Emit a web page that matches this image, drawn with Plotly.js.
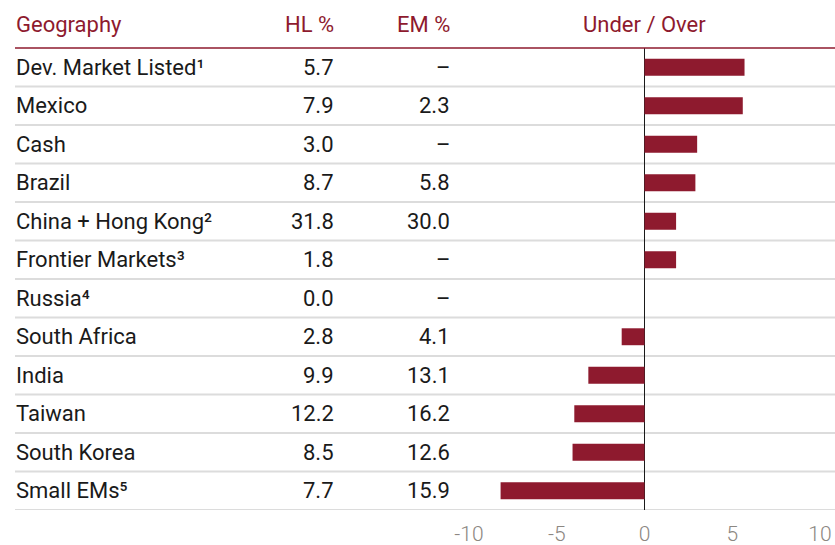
<!DOCTYPE html>
<html>
<head>
<meta charset="utf-8">
<script src="https://cdn.plot.ly/plotly-3.0.1.min.js"></script>
<style>
html,body{margin:0;padding:0;background:#fff;}
#chart{width:835px;height:545px;}
</style>
</head>
<body>
<div id="chart"></div>
<script>
const geographies = ["Dev. Market Listed¹", "Mexico", "Cash", "Brazil", "China + Hong Kong²", "Frontier Markets³", "Russia⁴", "South Africa", "India", "Taiwan", "South Korea", "Small EMs⁵"];
const hlPct = ["5.7", "7.9", "3.0", "8.7", "31.8", "1.8", "0.0", "2.8", "9.9", "12.2", "8.5", "7.7"];
const emPct = ["–", "2.3", "–", "5.8", "30.0", "–", "–", "4.1", "13.1", "16.2", "12.6", "15.9"];
const underOver = [5.7, 5.6, 3.0, 2.9, 1.8, 1.8, 0.0, -1.3, -3.2, -4.0, -4.1, -8.2];
const headers = ["Geography", "HL %", "EM %", "Under / Over"];
const xTicks = [-10, -5, 0, 5, 10];

const RED = "#8e1a2e";
const TEXT = "#1a1a1a";
const FONT = "Roboto, 'DejaVu Sans', sans-serif";
const FS = 22;

const yIdx = geographies.map((_, i) => i);

const trace = {
  type: "bar",
  orientation: "h",
  y: yIdx,
  x: underOver,
  width: 0.44,
  marker: { color: RED },
  hoverinfo: "skip"
};

const annotations = [];
function px(x) { return (x - 15) / 820; }
annotations.push({ xref: "paper", yref: "paper", x: 0, xshift: -1, y: 1.05, xanchor: "left", yanchor: "middle", text: headers[0], showarrow: false, font: { family: FONT, size: FS, color: RED } });
annotations.push({ xref: "paper", yref: "paper", x: px(336), y: 1.05, xanchor: "right", yanchor: "middle", text: headers[1], showarrow: false, font: { family: FONT, size: FS, color: RED } });
annotations.push({ xref: "paper", yref: "paper", x: px(452), y: 1.05, xanchor: "right", yanchor: "middle", text: headers[2], showarrow: false, font: { family: FONT, size: FS, color: RED } });
annotations.push({ xref: "x", yref: "paper", x: 0, y: 1.05, xanchor: "center", yanchor: "middle", text: headers[3], showarrow: false, font: { family: FONT, size: FS, color: RED } });

geographies.forEach((g, i) => {
  annotations.push({ xref: "paper", yref: "y", x: 0, xshift: -1, y: i, xanchor: "left", yanchor: "middle", text: g, showarrow: false, font: { family: FONT, size: FS, color: TEXT } });
  annotations.push({ xref: "paper", yref: "y", x: px(336), y: i, xanchor: "right", yanchor: "middle", text: hlPct[i], showarrow: false, font: { family: FONT, size: FS, color: TEXT } });
  annotations.push({ xref: "paper", yref: "y", x: px(452), y: i, xanchor: "right", yanchor: "middle", text: emPct[i], showarrow: false, font: { family: FONT, size: FS, color: TEXT } });
});

const shapes = [];
geographies.forEach((_, i) => {
  shapes.push({ type: "line", xref: "paper", yref: "y", x0: 0, x1: 1, y0: i + 0.5, y1: i + 0.5, line: { color: "#dcdcdc", width: 2 }, layer: "below" });
});
shapes.push({ type: "line", xref: "paper", yref: "paper", x0: 0, x1: 1, y0: 1, y1: 1, line: { color: RED, width: 1.5 } });

const layout = {
  width: 835,
  height: 545,
  margin: { l: 15, r: 0, t: 48, b: 35 },
  paper_bgcolor: "#fff",
  plot_bgcolor: "rgba(0,0,0,0)",
  showlegend: false,
  xaxis: {
    domain: [px(469), px(820)],
    range: [-10, 10],
    tickvals: xTicks,
    ticktext: xTicks.map(v => v < 0 ? "-" + Math.abs(v) : String(v)),
    showgrid: false,
    zeroline: true,
    zerolinecolor: "#1a1a1a",
    zerolinewidth: 1.5,
    tickfont: { family: FONT, size: 21, color: "#8c8782", weight: 300 },
    ticks: "",
    ticklabelstandoff: 9,
    fixedrange: true
  },
  yaxis: {
    range: [11.5, -0.5],
    showticklabels: false,
    showgrid: false,
    zeroline: false,
    ticks: "",
    fixedrange: true
  },
  annotations: annotations,
  shapes: shapes
};

Plotly.newPlot("chart", [trace], layout, { staticPlot: true, displayModeBar: false });
</script>
</body>
</html>
